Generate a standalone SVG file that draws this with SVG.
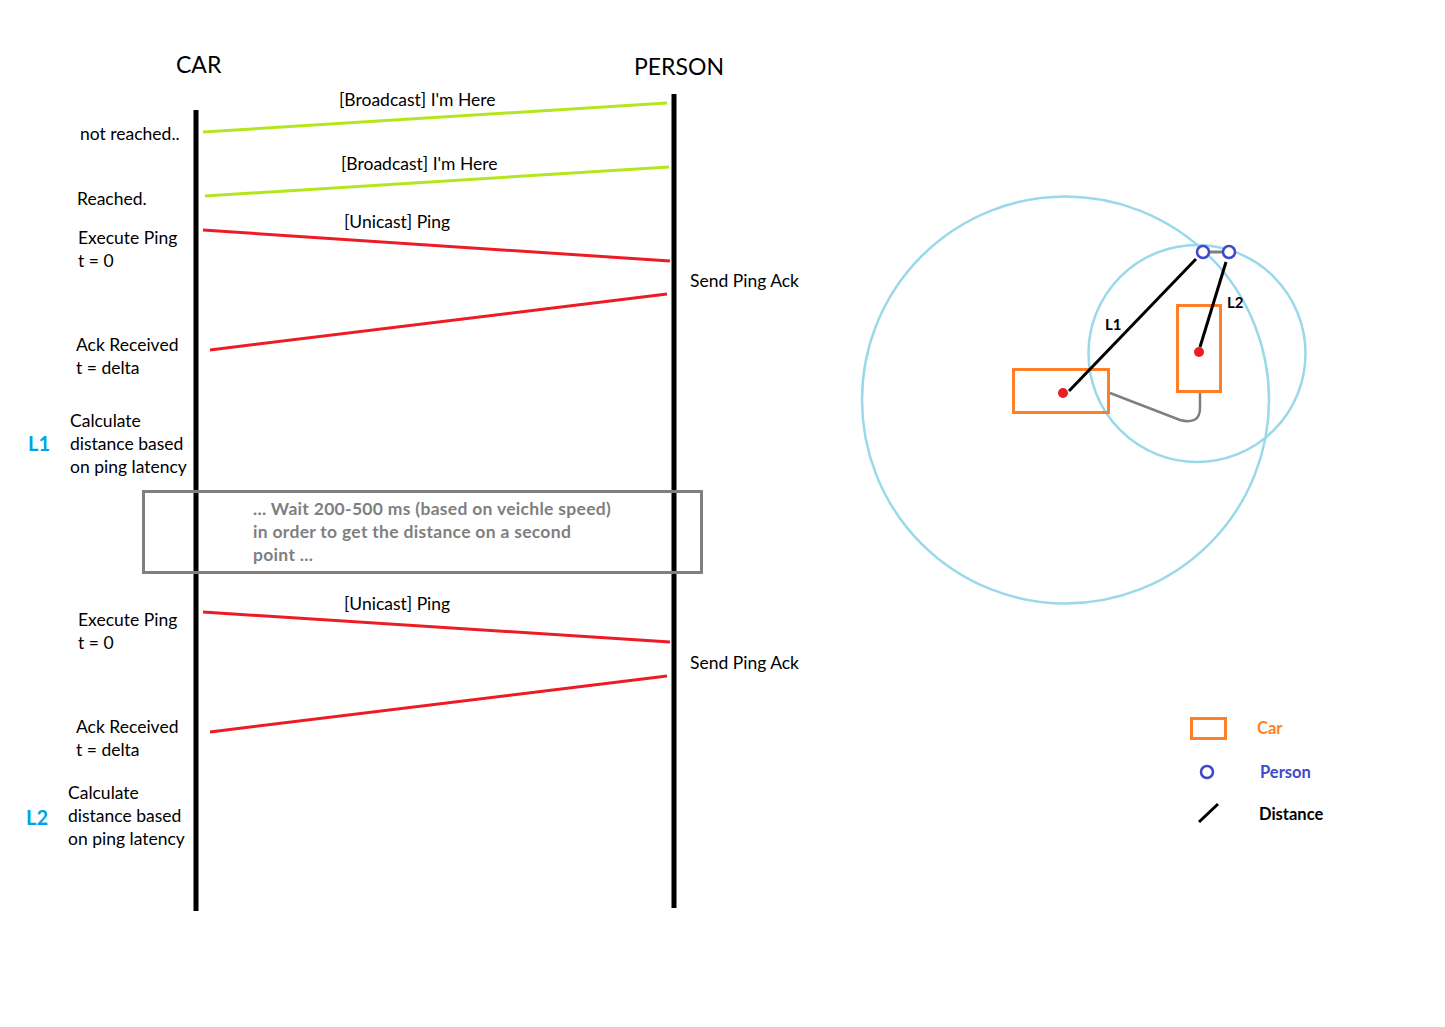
<svg xmlns="http://www.w3.org/2000/svg" width="1445" height="1027" viewBox="0 0 1445 1027">
<style>
text{font-family:Lato,"Open Sans","Liberation Sans",sans-serif;fill:#000}
.t{font-size:17.5px}
.h{font-size:23px}
.w{font-size:17.5px;font-weight:bold;fill:#7f7f7f;letter-spacing:0.3px}
.lb{font-size:20px;font-weight:bold;fill:#00a2e8}
.life{stroke:#000;stroke-width:5;fill:none}
.lime{stroke:#b5e61d;stroke-width:3;fill:none}
.red{stroke:#ed1c24;stroke-width:3;fill:none}
.ring{stroke:#99d9ea;stroke-width:2.5;fill:none}
.car{stroke:#ff7f27;stroke-width:3;fill:none}
.per{stroke:#3f48cc;stroke-width:2.5;fill:#fff}
.dist{stroke:#000;stroke-width:3;fill:none}
.dot{fill:#ed1c24}
.small{font-size:15px;font-weight:bold}
.lg{font-size:16.5px;font-weight:bold}
</style>
<rect width="1445" height="1027" fill="#fff"/>
<g id="car-lifeline">
<text class="h" x="176" y="73">CAR</text>
<line class="life" x1="196" y1="110" x2="196" y2="911"/>
</g>
<g id="person-lifeline">
<text class="h" x="634" y="75">PERSON</text>
<line class="life" x1="674" y1="94" x2="674" y2="908"/>
</g>
<g id="wait-box">
<rect x="143.5" y="491.5" width="558" height="81" fill="none" stroke="#7f7f7f" stroke-width="3"/>
<text class="w" x="253" y="515">... Wait 200-500 ms (based on veichle speed)</text>
<text class="w" x="253" y="538">in order to get the distance on a second</text>
<text class="w" x="253" y="561">point ...</text>
</g>
<g id="connectors">
<line class="lime" x1="203" y1="132" x2="667" y2="103"/>
<line class="lime" x1="205" y1="196" x2="669" y2="167"/>
<line class="red" x1="203" y1="230" x2="670" y2="261"/>
<line class="red" x1="210" y1="350" x2="667" y2="294"/>
<line class="red" x1="203" y1="612" x2="670" y2="642"/>
<line class="red" x1="210" y1="732" x2="667" y2="676"/>
</g>
<g id="messages">
<text class="t" x="339" y="106">[Broadcast] I'm Here</text>
<text class="t" x="341" y="170">[Broadcast] I'm Here</text>
<text class="t" x="344" y="228">[Unicast] Ping</text>
<text class="t" x="690" y="287">Send Ping Ack</text>
<text class="t" x="344" y="610">[Unicast] Ping</text>
<text class="t" x="690" y="669">Send Ping Ack</text>
</g>
<g id="car-notes">
<text class="t" x="80" y="140">not reached..</text>
<text class="t" x="77" y="205">Reached.</text>
<text class="t" x="78" y="244">Execute Ping</text>
<text class="t" x="78" y="267">t = 0</text>
<text class="t" x="76" y="351">Ack Received</text>
<text class="t" x="76" y="374">t = delta</text>
<text class="t" x="70" y="427">Calculate</text>
<text class="t" x="70" y="450">distance based</text>
<text class="t" x="70" y="473">on ping latency</text>
<text class="lb" x="28" y="451">L1</text>
<text class="t" x="78" y="626">Execute Ping</text>
<text class="t" x="78" y="649">t = 0</text>
<text class="t" x="76" y="733">Ack Received</text>
<text class="t" x="76" y="756">t = delta</text>
<text class="t" x="68" y="799">Calculate</text>
<text class="t" x="68" y="822">distance based</text>
<text class="t" x="68" y="845">on ping latency</text>
<text class="lb" x="26" y="825">L2</text>
</g>
<g id="map">
<circle class="ring" cx="1065.5" cy="400" r="203.5"/>
<circle class="ring" cx="1197" cy="353.5" r="108.5"/>
<rect class="car" x="1013.5" y="369.5" width="95" height="43"/>
<rect class="car" x="1177.5" y="305.5" width="43" height="86"/>
<path d="M1110,393 L1180,420 Q1200,425 1200,408 L1200,393" fill="none" stroke="#7f7f7f" stroke-width="2.5"/>
<line x1="1209" y1="252" x2="1223" y2="252" stroke="#7f7f7f" stroke-width="3"/>
<line class="dist" x1="1069" y1="391" x2="1196" y2="259"/>
<line class="dist" x1="1200" y1="347" x2="1226" y2="262"/>
<circle class="dot" cx="1063" cy="393" r="5"/>
<circle class="dot" cx="1199" cy="352" r="5"/>
<circle class="per" cx="1203" cy="252" r="6"/>
<circle class="per" cx="1229" cy="252" r="6"/>
<text class="small" x="1105" y="330">L1</text>
<text class="small" x="1227" y="308">L2</text>
</g>
<g id="legend">
<rect class="car" x="1191.5" y="718.5" width="34" height="20"/>
<text class="lg" x="1257" y="734" style="fill:#ff7f27">Car</text>
<circle class="per" cx="1207" cy="772" r="6"/>
<text class="lg" x="1260" y="778" style="fill:#3f48cc">Person</text>
<line class="dist" x1="1199" y1="822" x2="1218" y2="804"/>
<text class="lg" x="1259" y="820">Distance</text>
</g>
</svg>
